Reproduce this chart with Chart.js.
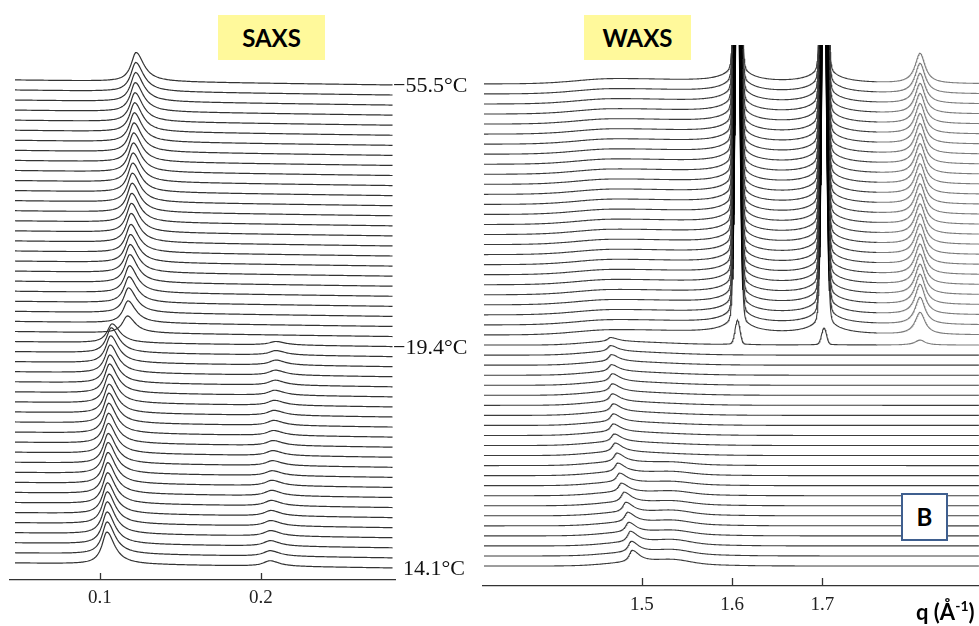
<!DOCTYPE html>
<html>
<head>
<meta charset="utf-8">
<script src="https://cdn.jsdelivr.net/npm/chart.js@4.4.1/dist/chart.umd.min.js"></script>
<style>
  html, body { margin:0; padding:0; background:#fff; }
  body { width:979px; height:626px; position:relative; overflow:hidden; }
  #saxs { position:absolute; left:0; top:0; }
  #waxs { position:absolute; left:480px; top:0; }
  .tag { position:absolute; top:15px; width:107px; height:45px; background:#fff99b;
         font-family:Lato, "Open Sans", sans-serif; font-weight:bold; font-size:24px;
         color:#000; text-align:center; line-height:46px; }
  .temp { position:absolute; font-family:"Liberation Serif", serif; font-size:22px; color:#111;
          line-height:22px; white-space:nowrap; }
  #boxB { position:absolute; left:901px; top:493px; width:43px; height:44px;
          border:2px solid #3f5f8f; background:#fff; font-family:Lato, sans-serif;
          font-weight:bold; font-size:24px; text-align:center; line-height:44px; color:#000; }
  #qlab { position:absolute; left:916px; top:598px; font-family:Lato, sans-serif;
          font-weight:bold; font-size:22px; color:#000; white-space:nowrap; }
  #qlab sup { font-size:14px; vertical-align:9px; line-height:0; }
</style>
</head>
<body>
<canvas id="saxs" width="480" height="626"></canvas>
<canvas id="waxs" width="499" height="626"></canvas>
<div class="tag" style="left:218px">SAXS</div>
<div class="tag" style="left:584px">WAXS</div>
<div id="boxB">B</div>
<div id="qlab">q (Å<sup>-1</sup>)</div>
<div class="temp" id="t0"></div>
<div class="temp" id="t1"></div>
<div class="temp" id="t2"></div>
<script>
// ---------------- DATA (index 0 = top trace, -55.5 °C ; index 48 = bottom trace, 14.1 °C) ----------
const tempLabels   = ['\u221255.5\u00b0C', '\u221219.4\u00b0C', '14.1\u00b0C'];
const tempTraceIdx = [0, 26, 48];

const saxsTicks = [0.1, 0.2];
const waxsTicks = [1.5, 1.6, 1.7];

// SAXS main reflection: position (q, Å^-1) and height (trace-spacing units)
const saxsPeakQ = [
  0.1224,0.1222,0.1221,0.1219,0.1217,0.1215,0.1213,0.1211,0.1209,0.1207,
  0.1205,0.1203,0.1201,0.1199,0.1197,0.1195,0.1193,0.1191,0.1189,0.1187,
  0.1185,0.1183,0.1180,0.1177,0.1174,0.1170,
  0.1075,0.1070,0.1066,0.1063,0.1061,0.1059,0.1057,0.1056,0.1055,0.1054,
  0.1053,0.1052,0.1051,0.1050,0.1049,0.1048,0.1047,0.1046,0.1045,0.1045,
  0.1044,0.1044,0.1043];
const saxsPeakH = [
  2.9,2.9,2.9,2.9,2.9,2.9,2.9,2.9,2.9,2.9,
  2.9,2.9,2.9,2.9,2.9,2.9,2.9,2.8,2.8,2.8,
  2.8,2.7,2.6,2.5,2.2,1.7,
  1.9,2.5,2.7,2.8,2.8,2.9,2.9,2.9,3.0,3.0,
  3.0,3.0,3.0,3.1,3.1,3.1,3.1,3.1,3.2,3.2,
  3.2,3.2,3.2];
// SAXS second-order reflection
const saxsHarmQ = [
  0,0,0,0,0,0,0,0,0,0,0,0,0,0,0,0,0,0,0,0,0,0,0,0,0,0,
  0.2093,0.2093,0.2092,0.2090,0.2088,0.2086,0.2084,0.2082,0.2080,0.2078,
  0.2076,0.2074,0.2072,0.2070,0.2068,0.2066,0.2064,0.2062,0.2061,0.2060,
  0.2058,0.2057,0.2056];
const saxsHarmH = [
  0,0,0,0,0,0,0,0,0,0,0,0,0,0,0,0,0,0,0,0,0,0,0,0,0,0,
  0.35,0.45,0.5,0.5,0.5,0.5,0.5,0.5,0.5,0.5,
  0.5,0.5,0.5,0.5,0.55,0.55,0.55,0.55,0.55,0.55,
  0.55,0.55,0.55];

// WAXS crystalline reflections
const waxsCrystQ = [1.6059, 1.7019, 1.8084];
const waxsPk160H = [
  40,40,40,40,40,40,40,40,40,40,40,40,40,40,40,40,40,40,40,40,40,40,40,40,40,40,
  2.3,
  0,0,0,0,0,0,0,0,0,0,0,0,0,0,0,0,0,0,0,0,0,0];
const waxsPk170H = [
  40,40,40,40,40,40,40,40,40,40,40,40,40,40,40,40,40,40,40,40,40,40,40,40,40,40,
  1.6,
  0,0,0,0,0,0,0,0,0,0,0,0,0,0,0,0,0,0,0,0,0,0];
const waxsPk181H = [
  3.0,3.0,3.0,3.0,3.0,3.0,3.0,3.0,3.0,3.0,3.0,3.0,3.0,3.0,3.0,3.0,3.0,3.0,3.0,3.0,3.0,3.0,3.0,3.0,
  2.7,2.2,0.5,
  0,0,0,0,0,0,0,0,0,0,0,0,0,0,0,0,0,0,0,0,0,0];
// WAXS low-q feature (halo / low-temperature reflection)
const waxsHaloQ = [
  1.468,1.468,1.468,1.468,1.468,1.468,1.468,1.468,1.468,1.468,1.468,1.468,1.468,
  1.468,1.468,1.468,1.468,1.468,1.468,1.468,1.468,1.468,1.468,1.468,1.468,1.468,
  1.465,1.465,1.466,1.466,1.467,1.467,1.467,1.468,1.468,1.468,
  1.469,1.470,1.472,1.473,1.475,1.477,1.480,1.482,1.484,1.485,
  1.487,1.488,1.489];
const waxsHaloH = [
  0.5,0.5,0.5,0.5,0.5,0.5,0.5,0.5,0.5,0.5,0.5,0.5,0.5,
  0.5,0.5,0.5,0.5,0.5,0.5,0.5,0.5,0.5,0.5,0.5,0.5,0.5,
  0.35,0.35,0.35,0.35,0.35,0.35,0.35,0.35,0.35,0.35,
  0.35,0.35,0.35,0.35,0.35,0.35,0.35,0.35,0.35,0.35,
  0.35,0.35,0.35];
const waxsSharpH = [
  0,0,0,0,0,0,0,0,0,0,0,0,0,0,0,0,0,0,0,0,0,0,0,0,0,0,
  0.4,0.6,0.7,0.7,0.8,0.8,0.8,0.8,0.8,0.8,
  0.8,0.9,0.9,0.9,0.9,0.9,1.0,1.0,1.0,1.0,
  1.1,1.1,1.2];
const waxsHump2Q = 1.535;
const waxsHump2H = [
  0,0,0,0,0,0,0,0,0,0,0,0,0,0,0,0,0,0,0,0,
  0,0,0,0,0,0,0,0,0,0,0,0,0,0,0,0,0,0,
  0.15,0.2,0.2,0.25,0.25,0.3,0.3,0.3,0.35,0.35,0.35];

const SAXS_RANGE = [0.0441, 0.28323];   // axis extent
const SAXS_DATA  = [0.0472, 0.2820];    // traces extent
const WAXS_RANGE = [1.32363, 1.87382];
const WAXS_DATA  = [1.3247, 1.8738];
const N = saxsPeakQ.length;

// ---------------- line shapes ----------------
function lor(q, c, w) { const d = (q - c) / w; return 1 / (1 + d * d); }
function alor(q, c, wl, wr) { const d = (q - c) / (q < c ? wl : wr); return 1 / (1 + d * d); }
function gau(q, c, s) { const d = (q - c) / s; return Math.exp(-0.5 * d * d); }
function agau(q, c, sl, sr) { const d = (q - c) / (q < c ? sl : sr); return Math.exp(-0.5 * d * d); }

function grid(a, b, step) { const g = []; for (let q = a; q <= b + 1e-9; q += step) g.push(q); return g; }
const saxsQ = grid(SAXS_DATA[0], SAXS_DATA[1], 0.0007);
const waxsQ = grid(WAXS_DATA[0], WAXS_DATA[1], 0.0006);

function saxsTrace(i) {
  const base = N - 1 - i;
  return saxsQ.map(q => ({
    x: q,
    y: base + 0.5 * (SAXS_DATA[1] - q) / (SAXS_DATA[1] - SAXS_DATA[0])
         + saxsPeakH[i] * alor(q, saxsPeakQ[i], 0.0037, 0.0058)
         + (saxsHarmH[i] ? saxsHarmH[i] * alor(q, saxsHarmQ[i], 0.005, 0.007) : 0)
  }));
}
function crystal(q, c, h) {
  if (!h) return 0;
  return h * gau(q, c, 0.00266) + 0.045 * h * lor(q, c, 0.0078) + 0.015 * h * lor(q, c, 0.028);
}
function waxsTrace(i) {
  const base = N - 1 - i;
  const upper = waxsSharpH[i] === 0;
  return waxsQ.map(q => {
    let y = base;
    y += upper ? waxsHaloH[i] * agau(q, waxsHaloQ[i], 0.04, 0.08)
               : waxsHaloH[i] * agau(q, waxsHaloQ[i], 0.03, 0.06);
    y += waxsSharpH[i] * alor(q, waxsHaloQ[i], 0.004, 0.010);
    y += waxsHump2H[i] * gau(q, waxsHump2Q, 0.018);
    y += crystal(q, waxsCrystQ[0], waxsPk160H[i]);
    y += crystal(q, waxsCrystQ[1], waxsPk170H[i]);
    y += waxsPk181H[i] * lor(q, waxsCrystQ[2], 0.0067);
    return { x: q, y: y };
  });
}

// ---------------- plugins ----------------
const inwardTicks = {
  id: 'inwardTicks',
  afterDraw(chart, args, opts) {
    const { ctx, chartArea, scales: { x } } = chart;
    ctx.save();
    ctx.strokeStyle = '#333'; ctx.lineWidth = 1.3;
    for (const v of opts.values) {
      const px = Math.round(x.getPixelForValue(v)) + 0.5;
      ctx.beginPath(); ctx.moveTo(px, chartArea.bottom); ctx.lineTo(px, chartArea.bottom - opts.len); ctx.stroke();
    }
    ctx.restore();
  }
};
const tempPlacer = {
  id: 'tempPlacer',
  afterRender(chart) {
    const y = chart.scales.y;
    tempTraceIdx.forEach((idx, k) => {
      const el = document.getElementById('t' + k);
      el.textContent = tempLabels[k];
      el.style.left = (k === 2 ? 403 : 393) + 'px';
      el.style.top = (y.getPixelForValue(N - 1 - idx) - 11) + 'px';
    });
  }
};

function makeChart(id, datasets, cfg) {
  return new Chart(document.getElementById(id), {
    type: 'line',
    data: { datasets },
    plugins: cfg.plugins,
    options: {
      responsive: false, animation: false, events: [],
      parsing: false, normalized: true,
      layout: { padding: cfg.padding },
      elements: { point: { radius: 0 }, line: { tension: 0 } },
      plugins: { legend: { display: false }, tooltip: { enabled: false },
                 inwardTicks: { values: cfg.ticks, len: cfg.tickLen } },
      scales: {
        x: {
          type: 'linear', min: cfg.xr[0], max: cfg.xr[1],
          afterFit: s => { s.height = cfg.axisH; },
          afterBuildTicks: s => { s.ticks = cfg.ticks.map(v => ({ value: v })); },
          grid: { display: false, drawTicks: false },
          border: { display: true, color: '#333', width: 1.3 },
          ticks: { font: { family: 'Liberation Serif', size: 19 }, color: '#222',
                   padding: cfg.tickPad, autoSkip: false, maxRotation: 0,
                   callback: v => Number(v).toFixed(1) }
        },
        y: { display: false, min: cfg.yr[0], max: cfg.yr[1] }
      }
    }
  });
}

const saxsSets = [];
for (let i = 0; i < N; i++) saxsSets.push({ data: saxsTrace(i), borderColor: '#333', borderWidth: 1.2, clip: 0 });
const waxsSets = [];
for (let i = 0; i < N; i++) {
  const upper = i <= 26;
  waxsSets.push({
    data: waxsTrace(i), borderColor: '#3c3c3c', borderWidth: 1.1, clip: 0,
    segment: {
      borderColor: c => {
        const q = c.p0.parsed.x;
        if (upper && i < 26 && (Math.abs(q - waxsCrystQ[0]) < 0.006 || Math.abs(q - waxsCrystQ[1]) < 0.006)) return '#000';
        if (upper && q > 1.76) return '#7c7c7c';
        return undefined;
      },
      borderWidth: c => {
        const q = c.p0.parsed.x;
        if (upper && i < 26 && (Math.abs(q - waxsCrystQ[0]) < 0.006 || Math.abs(q - waxsCrystQ[1]) < 0.006)) return 1.8;
        return undefined;
      }
    }
  });
}

makeChart('saxs', saxsSets, {
  padding: { left: 10, right: 85, top: 40, bottom: 0 }, axisH: 46, tickPad: 7,
  xr: SAXS_RANGE, yr: [-1.1925, 52.472], ticks: saxsTicks, tickLen: 7,
  plugins: [inwardTicks, tempPlacer]
});
makeChart('waxs', waxsSets, {
  padding: { left: 3, right: 0, top: 45, bottom: 0 }, axisH: 40, tickPad: 8,
  xr: WAXS_RANGE, yr: [-1.9917, 51.884], ticks: waxsTicks, tickLen: 8,
  plugins: [inwardTicks]
});
</script>
</body>
</html>
